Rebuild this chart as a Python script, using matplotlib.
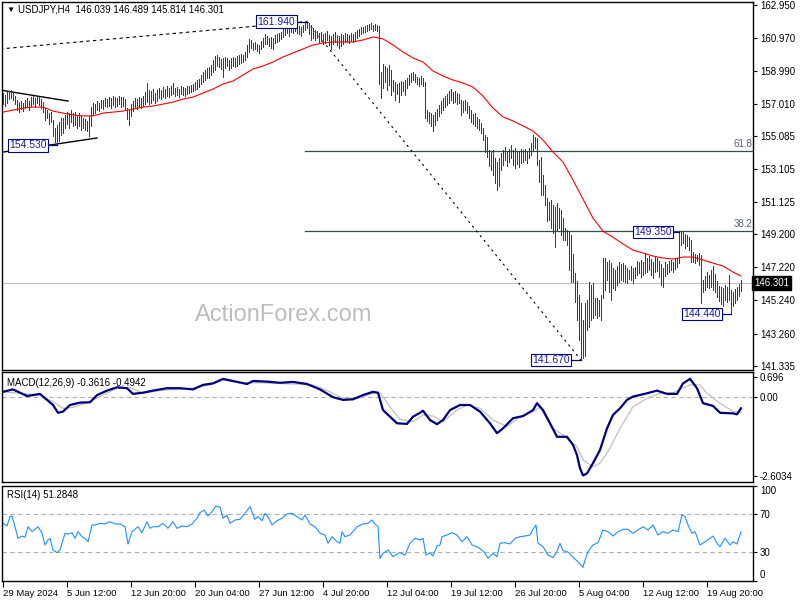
import matplotlib
matplotlib.use('Agg')
import matplotlib.pyplot as plt

plt.rcParams['font.family'] = ['Liberation Sans', 'DejaVu Sans']

# H4 bars, 29 May 2024 00:00 -> 22 Aug 2024 16:00 (one value per bar)
highs = [
    157.64, 157.54, 157.72, 157.78, 157.84, 157.72, 157.48, 157.24, 157.12, 157.18,
    157.06, 157.24, 157.36, 157.18, 157.42, 157.48, 157.36, 157.48, 157.42, 157.30,
    157.12, 156.76, 156.64, 156.46, 156.52, 156.05, 155.57, 155.75, 155.93, 156.17,
    156.17, 156.35, 156.52, 156.46, 156.64, 156.46, 156.52, 156.35, 156.46, 156.29,
    156.17, 156.11, 155.99, 156.29, 156.82, 157.06, 157.00, 157.18, 157.06, 157.24,
    157.24, 157.36, 157.30, 157.42, 157.36, 157.48, 157.42, 157.36, 157.48, 157.42,
    157.42, 157.30, 156.76, 156.64, 157.00, 157.18, 157.36, 157.30, 157.42, 157.36,
    157.48, 157.72, 158.26, 157.84, 157.78, 157.90, 157.66, 157.84, 157.96, 157.84,
    158.02, 157.90, 158.08, 157.96, 158.08, 158.26, 157.96, 158.02, 157.90, 158.08,
    158.02, 157.96, 158.08, 158.08, 158.14, 158.20, 158.32, 158.44, 158.50, 158.74,
    158.92, 159.04, 159.16, 159.22, 159.34, 159.64, 159.88, 159.94, 159.82, 159.70,
    159.76, 159.82, 159.76, 159.64, 159.76, 159.82, 159.76, 159.88, 159.94, 160.00,
    159.94, 160.12, 160.54, 160.90, 160.84, 160.66, 160.72, 160.60, 160.54, 160.78,
    160.96, 161.20, 161.08, 160.96, 161.02, 160.96, 161.14, 161.20, 161.26, 161.32,
    161.56, 161.68, 161.73, 161.62, 161.80, 161.73, 161.85, 161.80, 161.68, 161.62,
    161.73, 161.85, 161.94, 161.85, 161.73, 161.56, 161.44, 161.38, 161.26, 161.32,
    161.20, 161.26, 161.38, 161.14, 161.08, 161.20, 161.32, 161.14, 161.08, 161.20,
    161.14, 161.26, 161.20, 161.14, 161.26, 161.20, 161.32, 161.44, 161.50, 161.62,
    161.62, 161.68, 161.73, 161.80, 161.85, 161.73, 161.80, 161.73, 161.68, 158.92,
    159.40, 159.28, 159.16, 159.34, 159.04, 158.44, 158.32, 158.20, 158.26, 158.38,
    158.32, 158.44, 158.56, 158.74, 158.86, 158.92, 158.80, 158.62, 158.56, 158.68,
    158.56, 158.32, 156.64, 156.52, 156.46, 156.35, 156.52, 156.70, 156.94, 157.18,
    157.36, 157.48, 157.60, 157.78, 157.90, 157.72, 157.78, 157.66, 157.60, 157.24,
    157.18, 157.24, 157.12, 156.88, 156.64, 156.40, 156.46, 156.23, 156.11, 155.87,
    155.57, 155.15, 155.03, 154.25, 154.13, 154.25, 153.77, 153.53, 153.77, 154.07,
    154.25, 154.43, 154.13, 154.31, 154.55, 154.25, 154.37, 154.19, 154.13, 154.31,
    154.25, 154.31, 154.19, 154.37, 154.67, 155.15, 155.03, 154.97, 153.65, 153.83,
    152.75, 152.15, 151.37, 151.13, 151.25, 150.95, 150.83, 151.07, 150.77, 150.65,
    150.17, 149.57, 149.45, 149.33, 149.15, 148.02, 146.88, 146.40, 145.57, 145.09,
    144.07, 145.09, 145.27, 146.34, 146.16, 146.28, 145.39, 145.39, 145.27, 145.57,
    147.78, 147.78, 147.54, 147.66, 147.48, 147.18, 147.06, 147.30, 147.54, 147.42,
    147.48, 147.36, 147.18, 147.06, 147.30, 147.18, 147.24, 147.60, 147.54, 147.66,
    147.54, 148.08, 147.78, 147.90, 147.72, 147.54, 147.84, 147.78, 147.60, 147.42,
    147.18, 147.54, 147.42, 147.60, 147.66, 147.54, 147.72, 147.78, 149.25, 149.33,
    149.33, 149.21, 149.15, 149.03, 148.86, 148.14, 148.02, 147.96, 148.08, 147.96,
    146.46, 146.70, 146.94, 146.76, 147.06, 147.30, 146.82, 146.40, 146.10, 146.04,
    145.98, 146.16, 146.04, 146.76, 145.86, 145.74, 145.92, 146.04, 146.22, 146.49,
]
lows = [
    157.00, 156.88, 157.06, 157.30, 157.36, 157.24, 157.00, 156.64, 156.52, 156.70,
    156.58, 156.76, 156.88, 156.64, 156.88, 157.00, 156.82, 157.06, 156.94, 156.76,
    156.52, 156.05, 156.17, 155.81, 155.93, 155.09, 154.73, 154.53, 154.79, 155.15,
    155.27, 155.57, 155.81, 155.57, 155.93, 155.69, 155.75, 155.57, 155.69, 155.45,
    155.57, 155.45, 155.39, 155.09, 155.69, 156.35, 156.46, 156.64, 156.58, 156.76,
    156.70, 156.88, 156.82, 156.88, 156.76, 156.94, 156.82, 156.88, 157.00, 156.82,
    156.88, 156.70, 156.11, 155.75, 156.29, 156.58, 156.76, 156.70, 156.82, 156.76,
    156.88, 157.00, 157.12, 157.00, 157.06, 157.24, 157.06, 157.18, 157.36, 157.30,
    157.42, 157.36, 157.48, 157.42, 157.54, 157.60, 157.48, 157.54, 157.42, 157.60,
    157.54, 157.48, 157.60, 157.66, 157.72, 157.78, 157.84, 157.90, 158.02, 158.20,
    158.32, 158.44, 158.56, 158.56, 158.74, 158.92, 159.04, 159.28, 159.22, 159.10,
    158.62, 159.16, 159.28, 159.04, 159.16, 159.28, 159.22, 159.28, 159.40, 159.46,
    159.52, 159.64, 159.82, 160.12, 160.36, 160.24, 160.30, 160.18, 160.06, 160.30,
    160.42, 160.60, 160.60, 160.48, 160.36, 160.30, 160.66, 160.72, 160.78, 160.90,
    161.02, 161.14, 161.26, 161.08, 161.32, 161.26, 161.38, 161.26, 161.20, 161.08,
    161.32, 161.44, 161.56, 161.20, 160.84, 160.96, 160.84, 160.96, 160.72, 160.78,
    160.60, 160.66, 160.84, 160.54, 160.30, 160.60, 160.72, 160.54, 160.36, 160.48,
    160.60, 160.72, 160.72, 160.66, 160.78, 160.72, 160.84, 160.96, 161.08, 161.20,
    161.26, 161.32, 161.38, 161.44, 161.50, 161.38, 161.44, 161.38, 158.20, 157.36,
    157.96, 158.32, 157.84, 158.14, 157.54, 157.78, 157.24, 157.60, 157.12, 157.54,
    157.78, 157.54, 157.96, 158.14, 158.32, 158.44, 158.32, 158.20, 158.08, 158.20,
    158.08, 156.17, 155.99, 155.87, 155.69, 155.39, 155.75, 156.05, 156.29, 156.46,
    156.64, 156.82, 156.94, 157.06, 157.24, 157.06, 157.12, 157.00, 157.06, 156.35,
    156.52, 156.64, 156.46, 156.17, 155.93, 155.81, 155.69, 155.57, 155.45, 155.27,
    154.85, 154.13, 153.83, 153.29, 153.05, 152.75, 152.27, 151.85, 152.09, 153.05,
    153.35, 153.65, 153.29, 153.53, 153.77, 153.35, 153.17, 153.41, 153.23, 153.47,
    153.53, 153.65, 153.47, 153.77, 153.95, 154.25, 154.37, 153.35, 152.33, 151.55,
    151.55, 150.95, 150.00, 150.05, 149.57, 149.27, 148.44, 149.45, 149.57, 149.15,
    148.86, 148.86, 148.56, 147.06, 146.34, 146.34, 145.15, 144.07, 142.87, 141.67,
    141.79, 141.91, 143.47, 143.65, 144.07, 144.19, 144.37, 144.19, 144.31, 144.07,
    145.39, 145.86, 146.46, 145.74, 145.27, 145.98, 145.86, 146.16, 146.34, 146.46,
    146.40, 146.34, 146.28, 146.52, 146.46, 146.28, 146.58, 146.76, 146.88, 146.64,
    146.76, 146.88, 146.94, 147.06, 146.76, 146.58, 146.94, 147.00, 146.64, 146.16,
    146.04, 146.70, 146.82, 146.94, 147.06, 146.94, 147.12, 147.24, 147.48, 148.56,
    148.68, 148.38, 148.50, 148.26, 147.54, 147.54, 147.48, 147.60, 147.36, 145.09,
    145.74, 145.86, 146.04, 145.98, 146.04, 145.86, 145.74, 145.45, 145.21, 145.03,
    144.91, 145.27, 145.15, 145.27, 144.44, 144.91, 145.09, 145.27, 145.51, 145.81,
]

# red moving average, sampled every 5 bars
ma_idx = list(range(0, 370, 5)) + [369]
ma_val = [
    156.52, 156.64, 156.76, 156.82, 156.82, 156.58, 156.46, 156.35, 156.29, 156.29,
    156.46, 156.52, 156.58, 156.70, 156.82, 156.88, 157.00, 157.12, 157.30, 157.42,
    157.66, 157.90, 158.20, 158.38, 158.74, 159.10, 159.28, 159.52, 159.82, 160.06,
    160.30, 160.54, 160.66, 160.72, 160.72, 160.72, 160.84, 161.02, 160.90, 160.54,
    160.12, 159.76, 159.52, 158.98, 158.68, 158.44, 158.26, 158.02, 157.48, 156.76,
    156.23, 155.99, 155.69, 155.39, 154.85, 154.13, 153.53, 152.45, 151.31, 150.17,
    149.39, 149.03, 148.62, 148.26, 148.08, 147.90, 147.78, 147.72, 147.84, 147.84,
    147.66, 147.48, 147.30, 146.94, 146.70,
]

macd_idx = [0, 5, 8.5, 12, 15, 18.5, 22, 25, 27.5, 30, 33.5, 38.5, 43.5, 47, 52, 57, 62, 65,
            70, 75, 82, 88.5, 95, 100, 105, 110, 115, 122, 125, 132, 138.5, 145, 152, 158.5,
            165, 170, 175, 180, 185, 187.5, 190, 193.5, 197, 202, 205, 208.5, 210, 213.5, 217,
            220, 223.5, 228.5, 233.5, 238.5, 243.5, 247, 250, 255, 260, 265, 267, 270, 273.5,
            277, 282, 285, 287, 288.5, 290, 292, 295, 298.5, 302, 305, 308.5, 312, 315, 322,
            327, 332, 337, 340, 343.5, 347, 350, 355, 358.5, 365, 367, 369]
macd_val = [0.19, 0.27, 0.16, 0.05, 0.08, 0.12, -0.08, -0.25, -0.51, -0.47, -0.25, -0.17, -0.16,
            0.08, 0.23, 0.34, 0.31, 0.12, 0.16, 0.23, 0.31, 0.31, 0.27, 0.42, 0.47, 0.62, 0.55,
            0.45, 0.55, 0.53, 0.49, 0.52, 0.45, 0.27, 0.01, -0.08, -0.06, 0.08, 0.19, 0.16,
            -0.42, -0.64, -0.86, -0.88, -0.64, -0.51, -0.44, -0.75, -0.89, -0.75, -0.42, -0.25,
            -0.25, -0.47, -0.86, -1.19, -1.03, -0.69, -0.62, -0.42, -0.19, -0.42, -0.86, -1.31,
            -1.31, -1.58, -1.92, -2.36, -2.60, -2.53, -2.19, -1.75, -1.03, -0.58, -0.36, -0.08,
            0.03, 0.14, 0.23, 0.12, 0.12, 0.47, 0.62, 0.31, -0.19, -0.28, -0.51, -0.53, -0.56,
            -0.36]

sig_idx = [0, 12, 18.5, 25, 30, 35, 42, 48.5, 57, 63.5, 70, 78.5, 95, 103.5, 110, 118.5, 128.5,
           145, 155, 163.5, 170, 178.5, 185, 188.5, 193.5, 198.5, 205, 210, 215, 220, 227, 232,
           238.5, 245, 252, 258.5, 265, 268.5, 275, 280, 287, 290, 295, 298.5, 303.5, 308.5,
           315, 322, 328.5, 335, 343.5, 348.5, 352, 358.5, 365, 369]
sig_val = [0.19, 0.12, 0.08, -0.14, -0.36, -0.33, -0.17, 0.03, 0.31, 0.34, 0.14, 0.23, 0.31,
           0.42, 0.58, 0.49, 0.49, 0.45, 0.42, 0.19, -0.03, -0.01, 0.14, 0.14, -0.31, -0.73,
           -0.81, -0.58, -0.62, -0.81, -0.42, -0.25, -0.36, -0.75, -0.97, -0.64, -0.47, -0.33,
           -1.03, -1.25, -1.64, -2.08, -2.31, -2.19, -1.69, -1.03, -0.31, -0.03, 0.14, 0.16,
           0.42, 0.42, 0.14, -0.19, -0.47, -0.49]

rsi_idx = [0, 2, 3.5, 4.5, 6, 7.5, 9.5, 11, 12.5, 14.5, 16, 17.5, 19.5, 21, 22.5, 23.5, 25, 27,
           28.5, 30, 31, 32.5, 34.5, 36, 37.5, 39.5, 41, 42.5, 44.5, 46, 48.5, 51, 53.5, 56,
           58.5, 61, 62.5, 64.5, 66, 67.5, 69.5, 72, 73.5, 75, 77.5, 80, 82.5, 85, 87, 89.5,
           92, 94.5, 97, 98.5, 100.5, 102.5, 104.5, 106.5, 108.5, 110, 112, 113.5, 116, 118.5,
           121, 123.5, 126, 127.5, 129.5, 131, 132.5, 134.5, 137, 139.5, 142, 144.5, 147,
           149.5, 151, 153.5, 156, 158.5, 161, 162.5, 164.5, 167, 168.5, 169.5, 171, 173.5,
           177, 180, 182.5, 184.5, 186, 187.5, 188.5, 190, 192.5, 195, 197.5, 198.5, 201,
           203.5, 206, 208.5, 210, 211.5, 213.5, 215, 217, 218.5, 219.5, 222, 224.5, 227,
           229.5, 232, 234.5, 237, 239.5, 241, 242.5, 245, 247, 248.5, 251, 253.5, 256, 258.5,
           261, 263.5, 265, 266.5, 267.5, 270, 272.5, 275, 277, 278.5, 280, 282.5, 285, 287.5,
           290, 291, 292.5, 295, 297.5, 300, 302.5, 305, 307.5, 310, 312.5, 315, 317.5, 320,
           322.5, 325, 327.5, 330, 332.5, 335, 337.5, 339.5, 341, 342.5, 344.5, 346, 348.5,
           351, 353.5, 355, 357, 358.5, 361, 363.5, 365, 367, 369]
rsi_val = [60.2, 57.4, 67.2, 67.9, 56.6, 44.4, 46.8, 45.5, 56.6, 51.4, 53.9, 56.6, 49.7, 37.4,
           42.6, 44.4, 32.1, 29.3, 32.1, 42.6, 49.7, 48.9, 50.3, 44.4, 51.4, 46.1, 44.4, 40.8,
           58.4, 58.4, 60.2, 59.5, 61.9, 59.5, 59.5, 56.6, 38.4, 51.4, 53.9, 56.6, 50.3, 61.9,
           54.9, 56.6, 56.6, 60.2, 54.9, 61.9, 54.9, 57.4, 56.6, 59.5, 65.5, 71.4, 74.2, 67.9,
           72.5, 78.4, 77.1, 65.5, 69.0, 60.2, 63.7, 64.4, 70.7, 77.7, 64.4, 67.2, 62.9, 70.7,
           67.2, 58.4, 62.9, 65.5, 70.0, 70.7, 67.2, 63.7, 69.0, 59.5, 56.6, 49.7, 47.9, 39.2,
           46.1, 40.8, 39.2, 51.4, 46.1, 47.9, 56.6, 59.5, 60.2, 63.7, 59.5, 56.6, 23.4, 28.6,
           32.1, 25.1, 28.6, 29.3, 26.8, 39.2, 44.4, 42.6, 44.4, 26.8, 29.3, 25.8, 36.3, 37.4,
           46.1, 47.9, 50.3, 47.9, 40.8, 46.1, 37.4, 35.6, 32.1, 28.6, 23.4, 28.6, 25.1, 39.2,
           39.8, 38.4, 44.4, 46.1, 46.8, 47.9, 53.9, 58.4, 39.2, 35.6, 26.8, 24.0, 30.7, 39.2,
           31.4, 30.0, 24.4, 19.8, 13.9, 21.6, 30.3, 37.4, 39.8, 53.2, 51.4, 46.8, 51.4, 53.9,
           53.9, 49.7, 53.2, 56.6, 53.2, 58.4, 47.9, 51.4, 49.7, 53.2, 51.4, 69.0, 67.2, 58.4,
           49.7, 51.4, 37.4, 40.8, 44.4, 46.8, 39.2, 35.6, 44.4, 37.4, 40.8, 38.4, 51.3]

price_ticks = [162.950, 160.970, 158.990, 157.010, 155.085, 153.105,
               151.125, 149.200, 147.220, 145.240, 143.260, 141.335]
date_idx = [0, 32, 64, 96, 128, 160, 192, 224, 256, 288, 320, 352]
date_labels = ['29 May 2024', '5 Jun 12:00', '12 Jun 20:00', '20 Jun 04:00',
               '27 Jun 12:00', '4 Jul 20:00', '12 Jul 04:00', '19 Jul 12:00',
               '26 Jul 20:00', '5 Aug 04:00', '12 Aug 12:00', '19 Aug 20:00']

swing_labels = ['161.940', '154.530', '149.350', '144.440', '141.670']
swing_price = [161.94, 154.53, 149.35, 144.44, 141.67]
swing_bar = [152, 27, 338, 364, 289]
swing_box_right = [147, 22.5, 335, 359.5, 284]

fib_levels = [154.20, 149.41]
fib_names = ['61.8', '38.2']
last_price = 146.301

BAR_COL = '#1a4561'
XMIN, XMAX = -0.5, 375

fig = plt.figure(figsize=(8, 6), dpi=100)
ax = fig.add_axes([2 / 800, 1 - 370 / 600, 751 / 800, 368 / 600])
axm = fig.add_axes([2 / 800, 1 - 482 / 600, 751 / 800, 110 / 600])
axr = fig.add_axes([2 / 800, 1 - 580.5 / 600, 751 / 800, 95 / 600])

# ---- main price panel ----
ax.text(140.5, 144.37, 'ActionForex.com', fontsize=17, color='#bdbdbd',
        ha='center', va='center', zorder=0)
ax.axhline(last_price, color='#c0c0c0', lw=0.8, zorder=1)
for lvl, name in zip(fib_levels, fib_names):
    ax.plot([151, XMAX], [lvl, lvl], color='#2f4f4f', lw=0.9, zorder=2)
    ax.text(374.5, lvl + 0.1, name, fontsize=7, color='#55606b', ha='right', va='bottom')

# trendlines and triangle
ax.plot([-1.5, 152], [160.30, 161.94], color='black', lw=0.8, ls=(0, (3, 3)), zorder=2)
ax.plot([152, 289], [161.94, 141.67], color='black', lw=0.8, ls=(0, (2, 3.5)), zorder=2)
ax.plot([-1.5, 32.5], [157.84, 157.18], color='black', lw=1.0, zorder=2)
ax.plot([-1.5, 47], [154.10, 154.97], color='black', lw=1.0, zorder=2)

bars = list(range(len(highs)))
ax.vlines(bars, lows, highs, colors=BAR_COL, lw=0.5, zorder=3, antialiased=False)
ax.plot(ma_idx, ma_val, color='#ff0000', lw=0.8, zorder=4)

for txt, p, b, r in zip(swing_labels, swing_price, swing_bar, swing_box_right):
    ax.plot([r, b], [p, p], color='#000080', lw=0.9, zorder=5)
    ax.text(r - 0.8, p, txt, fontsize=7.5, color='#1c1ca8', ha='right', va='center', zorder=6,
            bbox=dict(boxstyle='square,pad=0.12', fc='white', ec='#000080', lw=0.8))

ax.text(375.6, last_price, f'{last_price:.3f}', fontsize=7, color='white', ha='left',
        va='center', clip_on=False, zorder=7,
        bbox=dict(boxstyle='square,pad=0.2', fc='black', ec='black'))

ax.set_xlim(XMIN, XMAX)
ax.set_ylim(141.076, 163.112)
ax.set_xticks([])
ax.yaxis.tick_right()
ax.set_yticks(price_ticks)
ax.set_yticklabels([f'{t:.3f}' for t in price_ticks])
ax.tick_params(axis='y', direction='out', length=3, labelsize=7, pad=2)

fig.text(6 / 800, 1 - 10 / 600, '\u25bc', fontsize=6, va='center', ha='left')
fig.text(18 / 800, 1 - 10 / 600, 'USDJPY,H4  146.039 146.489 145.814 146.301',
         fontsize=7, va='center', ha='left')

# ---- MACD panel ----
axm.axhline(0, color='#b0b0b0', lw=0.8, ls=(0, (4, 3)))
axm.plot(sig_idx, sig_val, color='#c0c0c0', lw=0.9)
axm.plot(macd_idx, macd_val, color='#000080', lw=1.6)
axm.set_xlim(XMIN, XMAX)
axm.set_ylim(-2.817, 0.85)
axm.set_xticks([])
axm.yaxis.tick_right()
axm.set_yticks([0.696, 0.0, -2.6034])
axm.set_yticklabels(['0.696', '0.00', '-2.6034'])
axm.tick_params(axis='y', direction='out', length=3, labelsize=7, pad=2)
axm.text(0.007, 0.9, 'MACD(12,26,9) -0.3616 -0.4942', transform=axm.transAxes,
         fontsize=7, va='center', ha='left')

# ---- RSI panel ----
for lvl in (70, 30):
    axr.axhline(lvl, color='#b0b0b0', lw=0.8, ls=(0, (4, 3)))
axr.plot(rsi_idx, rsi_val, color='#1e90ff', lw=0.8)
axr.set_xlim(XMIN, XMAX)
axr.set_ylim(0, 100)
axr.yaxis.tick_right()
axr.set_yticks([100, 70, 30, 0])
axr.set_yticklabels(['100', '70', '30', '0'])
ylabs = axr.get_yticklabels()
ylabs[0].set_va('top')
ylabs[3].set_va('bottom')
axr.tick_params(axis='y', direction='out', length=3, labelsize=7, pad=2)
axr.set_xticks(date_idx)
axr.set_xticklabels(date_labels, ha='left', fontsize=6.8)
axr.tick_params(axis='x', direction='out', length=4, pad=2)
axr.text(0.007, 0.9, 'RSI(14) 51.2848', transform=axr.transAxes,
         fontsize=7, va='center', ha='left')

for a in (ax, axm, axr):
    for s in a.spines.values():
        s.set_color('black')
        s.set_linewidth(1.0)

fig.savefig('out.png', dpi=100)
